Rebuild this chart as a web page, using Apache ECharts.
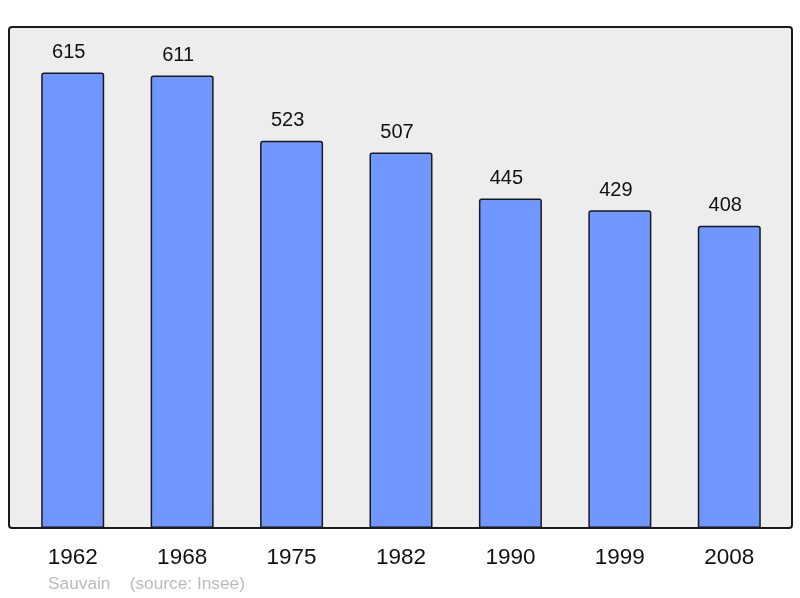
<!DOCTYPE html>
<html><head><meta charset="utf-8">
<script src="https://cdn.jsdelivr.net/npm/echarts@6/dist/echarts.min.js"></script>
<style>html,body{margin:0;padding:0;background:#fff}#c{width:800px;height:598px}</style>
</head><body><div id="c"></div>
<script>
const categories = ['1962','1968','1975','1982','1990','1999','2008'];
const population = [615, 611, 523, 507, 445, 429, 408];
const footerName = 'Sauvain';
const footerSource = '(source: Insee)';

const chart = echarts.init(document.getElementById('c'), null, {renderer:'canvas'});
chart.setOption({
  animation:false,
  backgroundColor:'#ffffff',
  textStyle:{fontFamily:'Liberation Sans, Arial, sans-serif'},
  graphic:[
    {type:'rect', z:-10, shape:{x:9,y:27,width:783,height:501,r:3},
     style:{fill:'#ededed', stroke:'#1a1a1a', lineWidth:2}},
    {type:'text', left:48, top:576, style:{text:footerName + '    ' + footerSource, fill:'#bbbbbb', font:'17.3px "Liberation Sans", Arial, sans-serif'}}
  ],
  grid:{left:18, right:16, top:27, bottom:70},
  xAxis:{type:'category', data:categories, boundaryGap:true,
    axisLine:{show:false}, axisTick:{show:false},
    axisLabel:{color:'#111', fontSize:22.5, margin:18, fontFamily:'Liberation Sans, Arial, sans-serif'}},
  yAxis:{type:'value', min:0, max:676.5, show:false, splitLine:{show:false}},
  series:[{type:'bar', data:population, barWidth:63,
    itemStyle:{color:'#7096ff', borderColor:'#1a1a1a', borderWidth:1.5, borderRadius:[2,2,0,0]},
    label:{show:true, position:'top', distance:10, offset:[-4,0], color:'#111', fontSize:20, fontFamily:'Liberation Sans, Arial, sans-serif'}
  }]
});
</script></body></html>
